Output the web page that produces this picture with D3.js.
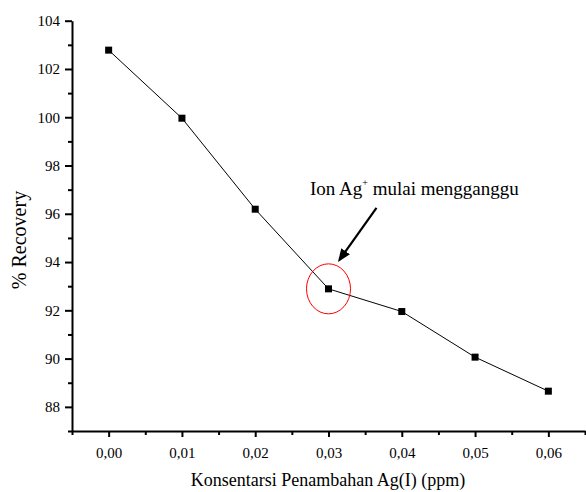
<!DOCTYPE html>
<html>
<head>
<meta charset="utf-8">
<script src="https://cdn.jsdelivr.net/npm/d3@7"></script>
<style>
	body { margin: 0; background: #fff; }
</style>
</head>
<body>
<script>
const konsentrasi = [0.00, 0.01, 0.02, 0.03, 0.04, 0.05, 0.06];
const recovery = [102.78, 99.96, 96.19, 92.89, 91.95, 90.06, 88.65];
const xTicks = [0.00, 0.01, 0.02, 0.03, 0.04, 0.05, 0.06];
const yTicks = [88, 90, 92, 94, 96, 98, 100, 102, 104];
const annotText = "Ion Ag";
const annotIndex = 3; // point that gets circled

const width = 586, height = 492;
const serif = "'Liberation Serif', 'Times New Roman', Tinos, serif";

const svg = d3.select("body")
	.append("svg")
	.attr("width", width)
	.attr("height", height)
	.style("font-family", serif);

const x = d3.scaleLinear().domain([-0.005, 0.065]).range([72, 585]);
const y = d3.scaleLinear().domain([87, 104]).range([431, 20.7]);

const fmt = (d) => d3.format(".2f")(d).replace(".", ",");

// minor ticks first, major on top
svg.append("g")
	.attr("transform", "translate(72,0)")
	.call(d3.axisLeft(y).tickValues(d3.range(87, 104, 2)).tickSize(4).tickFormat(""))
	.call((g) => g.select(".domain").remove())
	.call((g) => g.selectAll("line").attr("stroke-width", 2));

svg.append("g")
	.attr("transform", "translate(0,431)")
	.call(d3.axisBottom(x).tickValues([-0.005, 0.005, 0.015, 0.025, 0.035, 0.045, 0.055, 0.065]).tickSize(4).tickFormat(""))
	.call((g) => g.select(".domain").remove())
	.call((g) => g.selectAll("line").attr("stroke-width", 2));

const yAxis = svg.append("g")
	.attr("transform", "translate(72,0)")
	.call(d3.axisLeft(y).tickValues(yTicks).tickSize(7).tickPadding(5).tickSizeOuter(0));
yAxis.attr("font-family", null);
yAxis.selectAll("line").attr("stroke-width", 2);
yAxis.select(".domain").attr("stroke-width", 2);
yAxis.selectAll("text").attr("font-size", 15).style("font-family", serif);

const xAxis = svg.append("g")
	.attr("transform", "translate(0,431)")
	.call(d3.axisBottom(x).tickValues(xTicks).tickSize(6).tickPadding(10).tickSizeOuter(0).tickFormat(fmt));
xAxis.attr("font-family", null);
xAxis.selectAll("line").attr("stroke-width", 2);
xAxis.select(".domain").attr("stroke-width", 2);
xAxis.selectAll("text").attr("font-size", 15).style("font-family", serif);

// axis titles
svg.append("text")
	.attr("x", 328)
	.attr("y", 486)
	.attr("text-anchor", "middle")
	.attr("font-size", 18)
	.text("Konsentarsi Penambahan Ag(I) (ppm)");

svg.append("text")
	.attr("transform", "translate(26,240) rotate(-90)")
	.attr("text-anchor", "middle")
	.attr("font-size", 20)
	.text("% Recovery");

// data line + markers
const line = d3.line()
	.x((d, i) => x(konsentrasi[i]))
	.y((d) => y(d));

svg.append("path")
	.datum(recovery)
	.attr("d", line)
	.attr("fill", "none")
	.attr("stroke", "black")
	.attr("stroke-width", 1);

const ms = 7;
svg.append("g")
	.selectAll("rect")
	.data(recovery)
	.enter()
	.append("rect")
	.attr("x", (d, i) => x(konsentrasi[i]) - ms / 2)
	.attr("y", (d) => y(d) - ms / 2)
	.attr("width", ms)
	.attr("height", ms)
	.attr("fill", "black");

// annotation: red ellipse around the point, arrow and label
const cx = x(konsentrasi[annotIndex]), cy = y(recovery[annotIndex]);

svg.append("ellipse")
	.attr("cx", cx)
	.attr("cy", cy)
	.attr("rx", 22)
	.attr("ry", 25)
	.attr("fill", "none")
	.attr("stroke", "red")
	.attr("stroke-width", 1);

svg.append("svg:defs")
	.append("svg:marker")
	.attr("id", "arrow")
	.attr("viewBox", "0 -5 10 10")
	.attr("refX", 8)
	.attr("refY", 0)
	.attr("markerWidth", 6)
	.attr("markerHeight", 6)
	.attr("orient", "auto")
	.append("svg:path")
	.attr("d", "M0,-4L10,0L0,4Z")
	.attr("fill", "black");

svg.append("line")
	.attr("x1", cx + 48)
	.attr("y1", cy - 81)
	.attr("x2", cx + 11)
	.attr("y2", cy - 29)
	.attr("stroke", "black")
	.attr("stroke-width", 2.2)
	.attr("marker-end", "url(#arrow)");

const label = svg.append("text")
	.attr("x", 310)
	.attr("y", 195)
	.attr("font-size", 19);
label.append("tspan").text(annotText);
label.append("tspan").attr("dy", -9).attr("font-size", 10).text("+");
label.append("tspan").attr("dy", 9).text(" mulai mengganggu");
</script>
</body>
</html>
